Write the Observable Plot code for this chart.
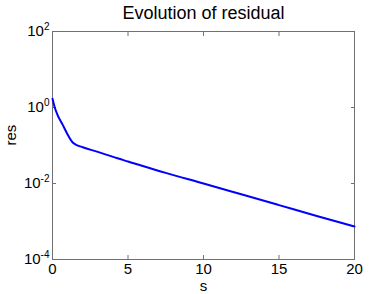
<!DOCTYPE html>
<html><head><meta charset="utf-8">
<script src="https://cdn.jsdelivr.net/npm/d3@7"></script>
<script src="https://cdn.jsdelivr.net/npm/@observablehq/plot@0.6"></script>
<style>body{margin:0;background:#fff;font-family:"Liberation Sans",Arial,sans-serif}</style>
</head><body><div id="chart"></div>
<script>
const title = "Evolution of residual";
const xLabel = "s";
const yLabel = "res";
const sValues = [0, 0.15, 0.33, 0.66, 1.0, 1.32, 1.6, 2, 3, 4.3, 5, 7.5, 10, 12.5, 15, 17.5, 20];
const resValues = [1.7, 1.0, 0.64, 0.36, 0.195, 0.122, 0.103, 0.09, 0.068, 0.046, 0.038, 0.019, 0.01, 0.0052, 0.0027, 0.0014, 0.00074];
const xTicks = [0, 5, 10, 15, 20];
const yTicks = [1e-4, 1e-2, 1, 1e2];
const yExponents = ["-4", "-2", "0", "2"];

const data = sValues.map((s, i) => ({s, res: resValues[i]}));
const axisColor = "#707070";
const blank = () => "";
const plot = Plot.plot({
  width: 392, height: 294,
  marginLeft: 52, marginRight: 38, marginTop: 31, marginBottom: 35,
  style: {fontFamily: "'Liberation Sans', Arial, sans-serif", fontSize: "15px", color: "#000", background: "#fff"},
  x: {domain: [0, 20]},
  y: {type: "log", domain: [1e-4, 1e2]},
  marks: [
    Plot.frame({stroke: axisColor}),
    Plot.axisX({anchor: "bottom", ticks: xTicks, tickSize: -4, tickPadding: 8, stroke: axisColor, fontSize: 15, label: null}),
    Plot.axisX({anchor: "top", ticks: xTicks, tickSize: -4, tickFormat: blank, stroke: axisColor, label: null}),
    Plot.axisY({anchor: "left", ticks: yTicks, tickSize: -4, tickPadding: 7, stroke: axisColor, fontSize: 15, label: null, tickFormat: () => "10"}),
    Plot.axisY({anchor: "right", ticks: yTicks, tickSize: -4, tickFormat: blank, stroke: axisColor, label: null}),
    Plot.line(data, {x: "s", y: "res", stroke: "#0000ff", strokeWidth: 2, curve: "monotone-x"}),
    Plot.text([title], {frameAnchor: "top", dy: -13, lineAnchor: "bottom", fontSize: 18, fill: "#000"}),
    Plot.text([xLabel], {frameAnchor: "bottom", dy: 31, lineAnchor: "bottom", fontSize: 15, fill: "#000"}),
    Plot.text([yLabel], {frameAnchor: "left", dx: -41, rotate: -90, fontSize: 15, fill: "#000"})
  ]
});
// add superscript exponents to the left y tick labels
const leftLabels = d3.select(plot).select("[aria-label='y-axis tick label']");
leftLabels.selectAll("text").each(function(d, i) {
  const t = d3.select(this);
  t.text("10");
  t.append("tspan").attr("dy", "-0.6em").attr("font-size", "10px").text(yExponents[i]);
});
document.getElementById("chart").appendChild(plot);
</script></body></html>
